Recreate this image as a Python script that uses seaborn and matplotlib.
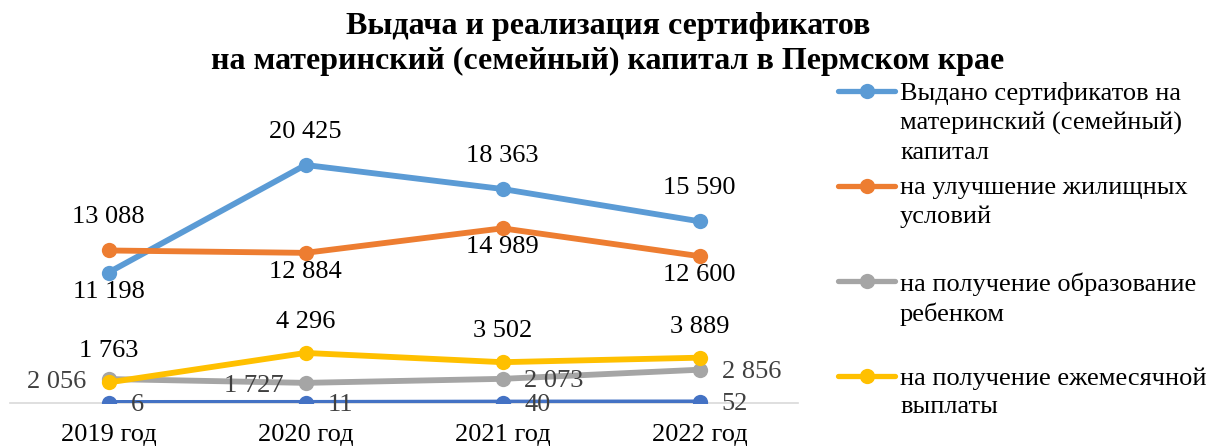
import matplotlib
matplotlib.use("Agg")
import matplotlib.pyplot as plt
import seaborn as sns
import pandas as pd
from matplotlib.lines import Line2D

# ---- data ----
years = ["2019 год", "2020 год", "2021 год", "2022 год"]
series_names = [
    "Выдано сертификатов на\nматеринский (семейный)\nкапитал",
    "на улучшение жилищных\nусловий",
    "на получение образование\nребенком",
    "на получение ежемесячной\nвыплаты",
    "прочее",
]
issued = [11198, 20425, 18363, 15590]
housing = [13088, 12884, 14989, 12600]
education = [2056, 1727, 2073, 2856]
monthly = [1763, 4296, 3502, 3889]
other = [6, 11, 40, 52]
values = [issued, housing, education, monthly, other]
colors = ["#5B9BD5", "#ED7D31", "#A5A5A5", "#FFC000", "#4472C4"]
title = "Выдача и реализация сертификатов\nна материнский (семейный) капитал в Пермском крае"

# label placement per series/point: (dx px, dy px, ha)
above, below = (0, 33, "center"), (0, -19, "center")
left, right = (-22, -3, "right"), (22, -2, "left")
label_pos = [
    [below, above, above, above],
    [above, below, below, below],
    [left, left, right, right],
    [(0, 31, "center")] * 4,
    [right, right, right, right],
]
label_colors = ["black", "black", "#404040", "black", "#404040"]

rows = []
for name, vals in zip(series_names, values):
    for i, (y, v) in enumerate(zip(years, vals)):
        rows.append({"year": y, "x": i, "value": v, "series": name})
df = pd.DataFrame(rows)

sns.set_style("white")
plt.rcParams["font.family"] = ["Liberation Serif", "DejaVu Serif"]
plt.rcParams["text.color"] = "black"
plt.rcParams["xtick.color"] = "black"

W, H = 1210, 447
fig = plt.figure(figsize=(W / 100, H / 100), dpi=100)
ax_left, ax_right, ax_bottom, ax_top = 10, 798, 403, 100
ax = fig.add_axes([ax_left / W, 1 - ax_bottom / H, (ax_right - ax_left) / W, (ax_bottom - ax_top) / H])

sns.lineplot(data=df, x="x", y="value", hue="series", palette=colors,
             hue_order=series_names, marker="o", markersize=11, markeredgewidth=0,
             linewidth=4.2, ax=ax, legend=False, sort=False)

ax.set_xlim(-0.5, 3.5)
ax.set_ylim(0, 26000)
ax.set_xticks(range(len(years)))
ax.set_xticklabels(years, fontsize=19, color="black")
ax.tick_params(axis="x", length=0, pad=15)
ax.set_yticks([])
ax.set_xlabel("")
ax.set_ylabel("")
for s in ["top", "left", "right"]:
    ax.spines[s].set_visible(False)
ax.spines["bottom"].set_color("#D9D9D9")
ax.spines["bottom"].set_linewidth(1.2)
ax.spines["bottom"].set_zorder(0)

def fmt(v):
    return f"{v:,}".replace(",", " ")

for si, vals in enumerate(values):
    for i, v in enumerate(vals):
        dx, dy, ha = label_pos[si][i]
        ax.annotate(fmt(v), (i, v), xytext=(dx, dy), textcoords="offset pixels",
                    ha=ha, va="center", fontsize=19, color=label_colors[si])

fig.text(608 / W, 1 - 44 / H, title, ha="center", va="center", fontsize=23,
         fontweight="bold", linespacing=1.28, color="black")

# legend (first four series)
leg_y = [91, 186, 281, 376]
for name, c, yy in zip(series_names[:4], colors[:4], leg_y):
    fy = 1 - yy / H
    fig.add_artist(Line2D([838 / W, 895 / W], [fy, fy], color=c, linewidth=3.8,
                          transform=fig.transFigure))
    fig.add_artist(Line2D([866.5 / W], [fy], color=c, marker="o", markersize=11,
                          markeredgewidth=0, transform=fig.transFigure))
    fig.text(900 / W, 1 - (yy - 9) / H, name, ha="left", va="top", fontsize=19,
             linespacing=1.39, color="black")

fig.savefig("out.png", dpi=100)
